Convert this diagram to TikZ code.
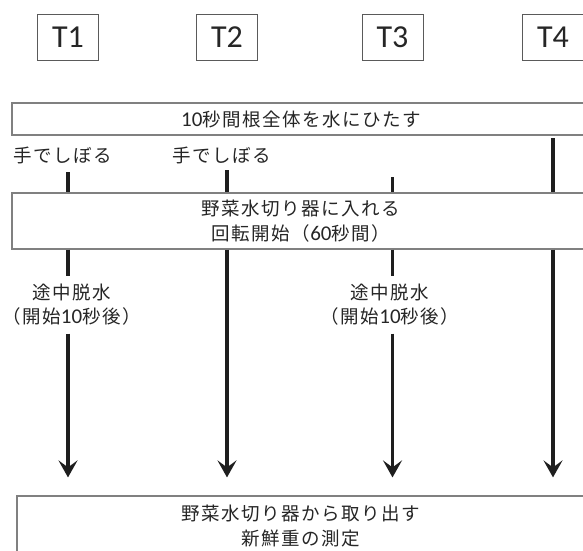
\documentclass[tikz,border=0pt]{standalone}
\usepackage{fontspec}
\setmainfont{Carlito}
\newfontfamily\jp[LetterSpace=8]{Noto Sans CJK JP}
\usetikzlibrary{arrows.meta}
\definecolor{ink}{HTML}{262626}
\definecolor{barc}{HTML}{1E1E1E}
\definecolor{bord}{HTML}{808080}
\definecolor{tbord}{HTML}{5A5A5A}
\newcommand\J[1]{{\jp #1}}
\newcommand\N[1]{{\fontsize{21}{24}\selectfont #1}}
\tikzset{
  tbox/.style={draw=tbord, line width=1pt, minimum width=61pt, minimum height=46pt,
    inner sep=0pt, text=ink, font=\fontsize{32}{32}\selectfont},
  wide/.style={draw=bord, line width=1.2pt, inner sep=0pt, text=ink, align=center,
    font=\fontsize{18.5}{24.5}\selectfont},
  lbl/.style={inner sep=0pt, text=ink, align=center, font=\fontsize{18.5}{24}\selectfont},
  bar/.style={draw=barc, line width=3.3pt},
  arr/.style={bar, -{Stealth[length=17pt,width=19pt,inset=7pt]}, shorten >=18pt}
}
\begin{document}
\begin{tikzpicture}[x=1pt,y=-1pt]
\clip (0,0) rectangle (583,550);
\fill[white] (0,0) rectangle (583,550);
% treatment labels
\node[tbox] (t1) at (68,37) {T1};
\node[tbox] (t2) at (227,37) {T2};
\node[tbox] (t3) at (392.5,37) {T3};
\node[tbox] (t4) at (553,37) {T4};
% wide boxes
\node[wide, minimum width=578pt, minimum height=32pt] (b1) at (301,119)
  {\N{10}\J{秒間根全体を水にひたす}};
\node[wide, minimum width=578pt, minimum height=56pt] (b2) at (301,221)
  {\J{野菜水切り器に入れる}\\\J{回転開始（}\N{60}\J{秒間）}};
\node[wide, minimum width=568pt, minimum height=60pt] (b3) at (301,526)
  {\J{野菜水切り器から取り出す}\\\J{新鮮重の測定}};
% side labels
\node[lbl] (h1) at (62.5,155) {\J{手でしぼる}};
\node[lbl] (h2) at (221.5,155) {\J{手でしぼる}};
\node[lbl, minimum height=57pt] (d1) at (71.5,305)
  {\J{途中脱水}\\\J{（開始}\N{10}\J{秒後）}};
\node[lbl, minimum height=57pt] (d3) at (390,305)
  {\J{途中脱水}\\\J{（開始}\N{10}\J{秒後）}};
% line starts
\coordinate (s1) at (68,172);
\coordinate (s2) at (227,170);
\coordinate (s3) at (392.5,177);
\coordinate (s4) at (553,138);
% T1
\draw[bar] (s1) -- (s1 |- b2.north);
\draw[bar] (s1 |- b2.south) -- (s1 |- d1.north);
\draw[arr] (s1 |- d1.south) -- (s1 |- b3.north);
% T2
\draw[bar] (s2) -- (s2 |- b2.north);
\draw[arr] (s2 |- b2.south) -- (s2 |- b3.north);
% T3
\draw[bar] (s3) -- (s3 |- b2.north);
\draw[bar] (s3 |- b2.south) -- (s3 |- d3.north);
\draw[arr] (s3 |- d3.south) -- (s3 |- b3.north);
% T4
\draw[bar] (s4) -- (s4 |- b2.north);
\draw[arr] (s4 |- b2.south) -- (s4 |- b3.north);
\end{tikzpicture}
\end{document}
